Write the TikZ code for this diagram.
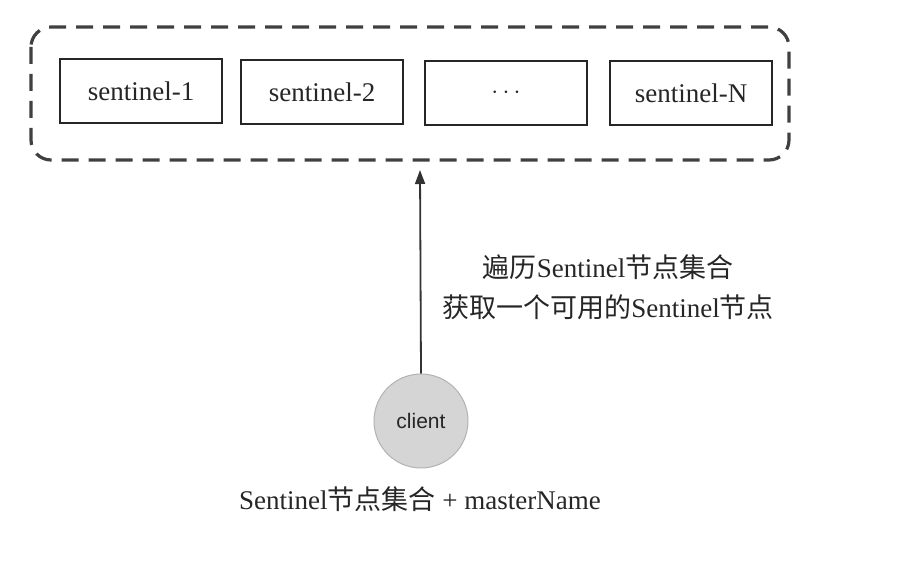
\documentclass[tikz,border=0pt]{standalone}
\usepackage{fontspec}
\setmainfont{Liberation Serif}
\newfontfamily\cjk{Noto Sans CJK SC}
\newfontfamily\sansf{Liberation Sans}
\usetikzlibrary{arrows.meta}
\begin{document}
\begin{tikzpicture}[x=1pt,y=-1pt,
  sbox/.style={draw=black!85, line width=2.6pt, minimum width=162pt, minimum height=64pt, inner sep=0pt,
    font=\fontsize{27}{30}\selectfont, text=black!85},
  grp/.style={draw=black!75, line width=3.2pt, dash pattern=on 17pt off 10pt, rounded corners=20pt},
  lbl/.style={font=\fontsize{27}{40}\selectfont, text=black!85, align=center},
  conn/.style={draw=black!80, line width=1.8pt, -{Triangle[length=14pt,width=10pt]}}]
\useasboundingbox (0,0) rectangle (912,564);
\draw[grp] (31,27) rectangle (789,160);
\node[sbox] (s1) at (141,91) {sentinel-1};
\node[sbox] (s2) at (322,92) {sentinel-2};
\node[sbox] (s3) at (506,93) {$\cdots$};
\node[sbox] (sn) at (691,93) {sentinel-N};
\node[circle, draw=gray!60, line width=1pt, fill=gray!33, minimum size=94pt, inner sep=0pt,
  font=\sansf\fontsize{21}{24}\selectfont, text=black!85] (client) at (421,421) {client};
\coordinate (top) at (420,170);
\draw[conn] (client.north) -- (top);
\node[lbl] (desc) at (608,287) {{\cjk 遍历}Sentinel{\cjk 节点集合}\\{\cjk 获取一个可用的}Sentinel{\cjk 节点}};
\node[lbl] (params) at (420,499) {Sentinel{\cjk 节点集合} + masterName};
\end{tikzpicture}
\end{document}
